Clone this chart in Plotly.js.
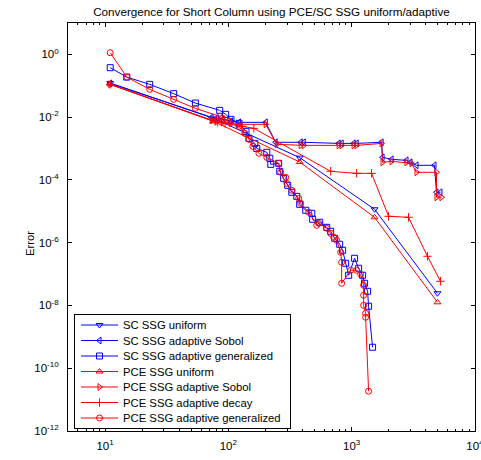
<!DOCTYPE html>
<html>
<head>
<meta charset="utf-8">
<script src="https://cdn.plot.ly/plotly-3.0.1.min.js"></script>
<style>
  html, body { margin: 0; padding: 0; background: #fff; }
  #chart { width: 481px; height: 460px; }
</style>
</head>
<body>
<div id="chart"></div>
<script>
// ---- data (number of points vs. error) ----
const scUniformX = [11, 76, 379, 1535, 4971];
const scUniformY = [0.122, 0.00916, 5.13e-4, 1.16e-5, 2.45e-8];

const scSobolX = [11, 73, 81, 90, 105, 122, 201, 242, 386, 409, 785, 830, 1038, 1098, 1750, 1782, 2108, 2788, 3004, 3360, 4700, 4880, 5256];
const scSobolY = [0.119, 0.00985, 0.00916, 0.00851, 0.00735, 0.00683, 0.00683, 0.00158, 0.00158, 0.00158, 0.00146, 0.00146, 0.00146, 0.00146, 0.00158, 5.25e-4, 4.53e-4, 4.21e-4, 3.64e-4, 2.92e-4, 2.92e-4, 4.03e-5, 4.03e-5];

const scGenX = [11, 15, 23, 36, 54, 85, 95, 105, 122, 139, 147, 164, 170, 205, 217, 221, 256, 261, 281, 303, 327, 359, 379, 424, 475, 483, 551, 628, 676, 729, 800, 845, 894, 946, 1057, 1140, 1228, 1274, 1348, 1373, 1479];
const scGenY = [0.377, 0.189, 0.111, 0.0560, 0.0281, 0.0165, 0.0123, 0.00851, 0.00635, 0.00353, 0.00211, 0.00146, 0.00101, 7.57e-4, 4.88e-4, 3.14e-4, 3.38e-4, 1.88e-4, 1.12e-4, 6.73e-5, 4.03e-5, 3.00e-5, 1.67e-5, 1.08e-5, 8.64e-6, 5.56e-6, 4.46e-6, 3.09e-6, 2.31e-6, 1.38e-6, 8.89e-7, 5.73e-7, 2.21e-7, 9.16e-8, 3.18e-7, 1.53e-7, 9.16e-8, 5.09e-8, 2.83e-8, 9.43e-9, 4.66e-10];

const pceUniformX = [11, 76, 379, 1535, 4971];
const pceUniformY = [0.111, 0.00735, 3.72e-4, 6.44e-6, 1.26e-8];

const pceSobolX = [11, 73, 81, 90, 105, 122, 201, 247, 386, 409, 785, 830, 1038, 1098, 1750, 1782, 2108, 2788, 3060, 3360, 4880, 4880, 5354];
const pceSobolY = [0.111, 0.00791, 0.00735, 0.00683, 0.00635, 0.00590, 0.00590, 0.00136, 0.00126, 0.00126, 0.00126, 0.00126, 0.00126, 0.00126, 0.00146, 3.64e-4, 3.91e-4, 3.64e-4, 3.38e-4, 1.75e-4, 1.75e-4, 2.79e-5, 2.79e-5];

const pceDecayX = [11, 73, 78, 82, 94, 129, 161, 676, 1098, 1452, 1994, 2894, 4125, 5256];
const pceDecayY = [0.111, 0.00851, 0.00735, 0.00683, 0.00635, 0.00509, 0.00440, 1.88e-4, 1.62e-4, 1.62e-4, 6.93e-6, 6.44e-6, 3.69e-7, 5.9e-8];

const pceGenX = [11, 15, 23, 36, 54, 85, 89, 101, 122, 136, 147, 158, 177, 205, 256, 266, 292, 298, 327, 372, 386, 449, 521, 541, 628, 676, 715, 756, 815, 830, 830, 982, 1098, 1183, 1251, 1251, 1251, 1299, 1299, 1373];
const pceGenY = [1.13, 0.189, 0.0768, 0.0369, 0.0191, 0.0106, 0.00916, 0.00735, 0.00509, 0.00305, 0.00196, 0.00117, 7.03e-4, 5.25e-4, 3.38e-4, 1.75e-4, 1.21e-4, 7.79e-5, 4.66e-5, 2.59e-5, 1.80e-5, 9.29e-6, 3.58e-6, 4.15e-6, 2.87e-6, 1.99e-6, 1.49e-6, 1.19e-6, 4.95e-7, 2.38e-7, 5.09e-8, 1.32e-7, 1.32e-7, 9.85e-8, 4.40e-8, 2.11e-8, 1.01e-8, 5.64e-9, 4.21e-9, 1.85e-11];

const seriesNames = [
  'SC SSG uniform', 'SC SSG adaptive Sobol', 'SC SSG adaptive generalized',
  'PCE SSG uniform', 'PCE SSG adaptive Sobol', 'PCE SSG adaptive decay', 'PCE SSG adaptive generalized'
];
const xTickVals = [10, 100, 1000, 10000];
const xTickText = ['10<sup>1</sup>', '10<sup>2</sup>', '10<sup>3</sup>', '10<sup>4</sup>'];
const yTickVals = [1e-12, 1e-10, 1e-8, 1e-6, 1e-4, 1e-2, 1];
const yTickText = ['10<sup>-12</sup>', '10<sup>-10</sup>', '10<sup>-8</sup>', '10<sup>-6</sup>', '10<sup>-4</sup>', '10<sup>-2</sup>', '10<sup>0</sup>'];

const titleText = 'Convergence for Short Column using PCE/SC SSG uniform/adaptive';
const yTitle = 'Error';

const BLUE = '#0000ff', RED = '#ff0000';
const FONT = 'Liberation Sans, Arial, Helvetica, sans-serif';

function tr(x, y, name, color, symbol) {
  return {
    x: x, y: y, name: name, type: 'scatter', mode: 'lines+markers',
    line: { color: color, width: 1 },
    marker: { symbol: symbol, size: 6, color: color, line: { color: color, width: 1 } }
  };
}

const data = [
  tr(scUniformX, scUniformY, seriesNames[0], BLUE, 'triangle-down-open'),
  tr(scSobolX, scSobolY, seriesNames[1], BLUE, 'triangle-left-open'),
  tr(scGenX, scGenY, seriesNames[2], BLUE, 'square-open'),
  tr(pceUniformX, pceUniformY, seriesNames[3], RED, 'triangle-up-open'),
  tr(pceSobolX, pceSobolY, seriesNames[4], RED, 'triangle-right-open'),
  tr(pceDecayX, pceDecayY, seriesNames[5], RED, 'cross-thin-open'),
  tr(pceGenX, pceGenY, seriesNames[6], RED, 'circle-open')
];

const layout = {
  width: 481, height: 460,
  margin: { l: 68, r: 6, t: 23, b: 29 },
  paper_bgcolor: '#fff', plot_bgcolor: '#fff',
  font: { family: FONT, size: 11, color: '#000' },
  title: {
    text: titleText, font: { family: FONT, size: 11.7, color: '#000' },
    x: 0.5, xref: 'paper', y: 1 - 12 / 460, yref: 'container', yanchor: 'middle'
  },
  showlegend: true,
  legend: {
    x: 0.015, y: 0.008, xanchor: 'left', yanchor: 'bottom',
    bgcolor: '#fff', bordercolor: '#000', borderwidth: 1,
    font: { family: FONT, size: 11.3, color: '#000' },
    itemwidth: 30, tracegroupgap: 0
  },
  xaxis: {
    type: 'log', range: [Math.log10(5), 4.001],
    tickvals: xTickVals, ticktext: xTickText, ticklabelstandoff: 4,
    ticklabeloverflow: 'allow',
    showgrid: false, zeroline: false,
    showline: true, linecolor: '#000', linewidth: 1, mirror: 'allticks',
    ticks: 'inside', ticklen: 4, tickcolor: '#000',
    tickfont: { family: FONT, size: 11.5, color: '#000' },
    minor: { ticks: 'inside', ticklen: 2, tickcolor: '#000', dtick: 'D1', showgrid: false }
  },
  yaxis: {
    type: 'log', range: [-12, 1],
    tickvals: yTickVals, ticktext: yTickText, ticklabelstandoff: 6,
    showgrid: false, zeroline: false,
    showline: true, linecolor: '#000', linewidth: 1, mirror: 'allticks',
    ticks: 'inside', ticklen: 4, tickcolor: '#000',
    tickfont: { family: FONT, size: 11.5, color: '#000' }
  },
  annotations: [{
    text: yTitle, xref: 'paper', yref: 'paper',
    x: (30 - 68) / 407, y: (431 - 244) / 408, xanchor: 'center', yanchor: 'middle',
    textangle: -90, showarrow: false, font: { family: FONT, size: 11.3, color: '#000' }
  }]
};

Plotly.newPlot('chart', data, layout, { displayModeBar: false, staticPlot: true }).then(function (gd) {
  // tighten the legend to the reference's compact row spacing
  const leg = gd.querySelector('g.legend');
  if (!leg) return;
  const rowH = 15.5, padTop = 11, boxW = 216, boxH = 114;
  const sb = leg.querySelector('g.scrollbox');
  if (sb) sb.removeAttribute('clip-path');
  leg.querySelectorAll('g.traces').forEach(function (t, i) {
    t.setAttribute('transform', 'translate(1,' + (padTop + i * rowH) + ')');
    const lp = t.querySelector('g.legendlines path');
    if (lp) lp.setAttribute('d', 'M6,0h37');
    t.querySelectorAll('g.legendpoints path').forEach(function (p) {
      p.setAttribute('transform', 'translate(24.5,0)');
    });
    const tx = t.querySelector('text.legendtext');
    if (tx) {
      tx.setAttribute('x', 48);
      tx.querySelectorAll('tspan').forEach(function (s) { if (s.hasAttribute('x')) s.setAttribute('x', 48); });
    }
  });
  const bg = leg.querySelector('rect.bg');
  if (bg) { bg.setAttribute('height', boxH); bg.setAttribute('width', boxW); }
  leg.setAttribute('transform', 'translate(74,' + (428 - boxH) + ')');
});
</script>
</body>
</html>
